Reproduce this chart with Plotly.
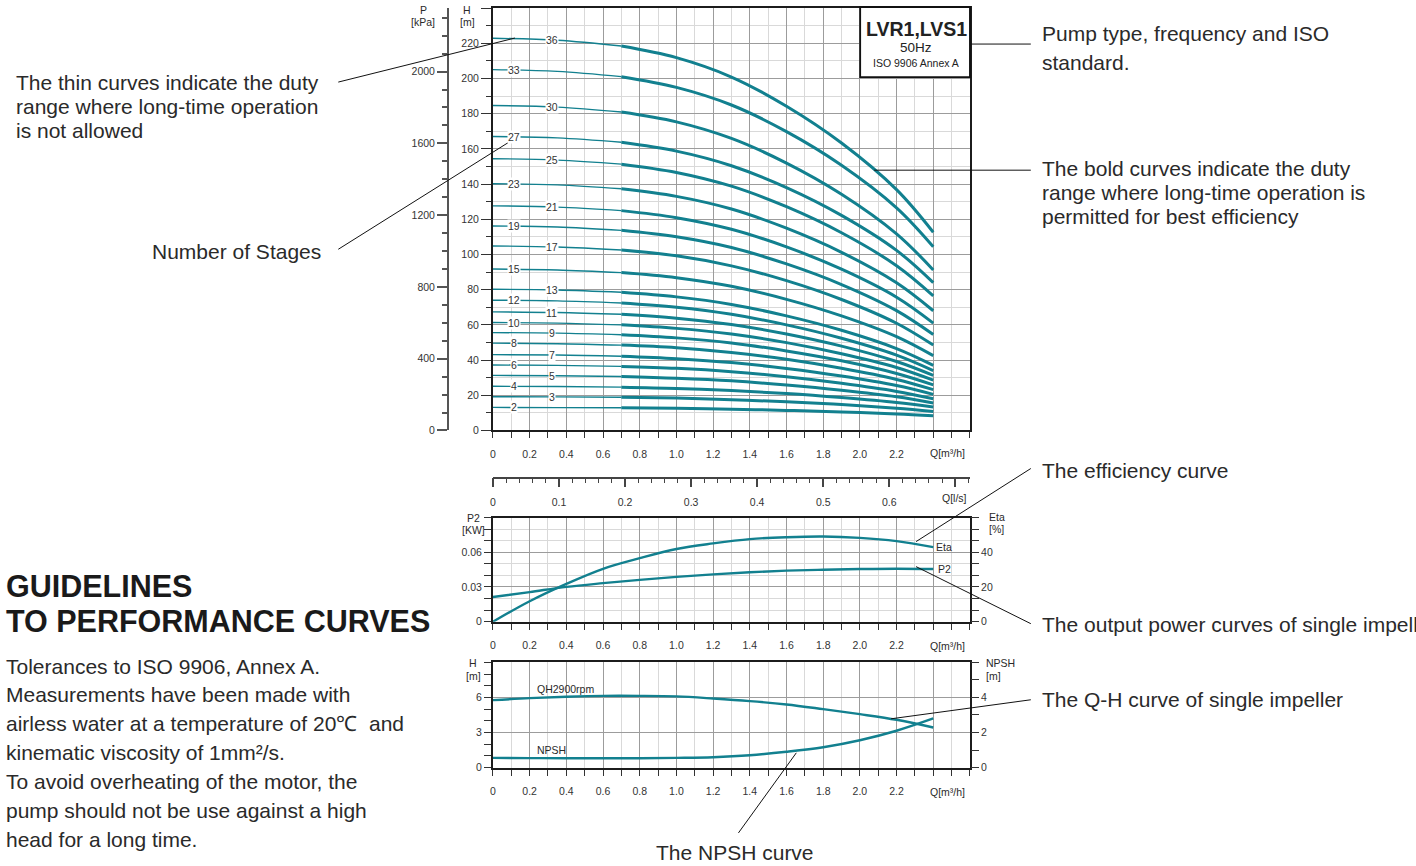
import plotly.graph_objects as go

# ---------------- data ----------------
Q = [0, 0.35, 0.7, 1.0, 1.3, 1.6, 1.9, 2.2, 2.4]          # m3/h
h2 = [13.1, 13.0, 12.9, 12.6, 12.1, 11.4, 10.5, 9.4, 8.3]
h3 = [19.2, 19.1, 18.9, 18.4, 17.5, 16.3, 14.7, 12.6, 10.8]
h4 = [25.1, 25.0, 24.6, 23.9, 22.7, 21.0, 18.7, 15.9, 13.3]
h5 = [31.3, 31.1, 30.7, 29.7, 28.2, 25.8, 22.8, 19.1, 15.6]
h6 = [37.2, 37.0, 36.4, 35.3, 33.4, 30.5, 26.8, 22.2, 18.0]
h7 = [43.1, 42.9, 42.2, 40.8, 38.6, 35.2, 30.9, 25.5, 20.5]
h8 = [49.6, 49.3, 48.5, 47.0, 44.3, 40.4, 35.3, 29.0, 23.2]
h9 = [55.6, 55.3, 54.4, 52.6, 49.7, 45.2, 39.6, 32.4, 25.9]
h10 = [61.3, 61.0, 60.0, 58.0, 54.8, 49.9, 43.6, 35.8, 28.6]
h11 = [67.4, 67.0, 66.0, 63.8, 60.2, 54.8, 47.9, 39.2, 31.3]
h12 = [74.0, 73.6, 72.4, 70.0, 66.0, 60.0, 52.4, 42.8, 34.0]
h13 = [80.2, 79.8, 78.5, 75.9, 71.6, 65.1, 56.9, 46.5, 37.0]
h15 = [91.7, 91.2, 89.7, 86.8, 81.9, 74.5, 65.1, 53.3, 42.5]
h17 = [104.8, 104.2, 102.5, 99.2, 93.5, 85.1, 74.4, 60.9, 48.5]
h19 = [116.2, 115.6, 113.7, 110.0, 103.9, 94.6, 82.9, 68.1, 54.5]
h21 = [127.6, 126.9, 124.9, 120.9, 114.3, 104.3, 91.6, 75.7, 61.0]
h23 = [140.2, 139.5, 137.3, 133.0, 125.8, 114.9, 101.2, 83.9, 68.0]
h25 = [154.4, 153.6, 151.3, 146.6, 138.8, 127.1, 112.3, 93.6, 76.5]
h27 = [167.0, 166.2, 163.7, 158.7, 150.4, 138.0, 122.2, 102.3, 84.0]
h30 = [184.6, 183.7, 180.9, 175.3, 165.9, 151.9, 134.2, 111.7, 91.2]
h33 = [205.0, 204.0, 201.0, 194.9, 184.9, 169.8, 150.7, 126.5, 104.4]
h36 = [222.8, 221.7, 218.4, 211.8, 200.8, 184.2, 163.3, 136.8, 112.6]
stage_numbers = [2, 3, 4, 5, 6, 7, 8, 9, 10, 11, 12, 13, 15, 17, 19, 21, 23, 25, 27, 30, 33, 36]
stage_heads = [h2, h3, h4, h5, h6, h7, h8, h9, h10, h11, h12, h13, h15, h17, h19, h21, h23,
               h25, h27, h30, h33, h36]

q_small = [0, 0.2, 0.4, 0.6, 0.8, 1.0, 1.2, 1.4, 1.6, 1.8, 2.0, 2.2, 2.4]
eta_pct = [0, 11.8, 21.8, 30.5, 36.6, 41.9, 45.1, 47.6, 48.7, 49.1, 48.3, 46.4, 43.0]
p2_kw = [0.0213, 0.0256, 0.0301, 0.0333, 0.0361, 0.0387, 0.0409, 0.0427, 0.0441, 0.0449,
         0.0455, 0.0458, 0.0455]
qh_single = [5.77, 5.94, 6.06, 6.14, 6.14, 6.09, 5.91, 5.69, 5.40, 5.00, 4.57, 4.09, 3.43]
npsh_m = [0.55, 0.54, 0.53, 0.53, 0.53, 0.55, 0.59, 0.70, 0.90, 1.16, 1.56, 2.10, 2.80]

q_ticks = [0, 0.2, 0.4, 0.6, 0.8, 1.0, 1.2, 1.4, 1.6, 1.8, 2.0, 2.2, 2.4, 2.6]
q_ticktext = ["0", "0.2", "0.4", "0.6", "0.8", "1.0", "1.2", "1.4", "1.6", "1.8", "2.0", "2.2", "", ""]
h_ticks = [0, 20, 40, 60, 80, 100, 120, 140, 160, 180, 200, 220, 240]
h_ticktext = ["0", "20", "40", "60", "80", "100", "120", "140", "160", "180", "200", "220", ""]
p_ticks = [0, 400, 800, 1200, 1600, 2000]
ls_ticks = [0, 0.1, 0.2, 0.3, 0.4, 0.5, 0.6, 0.7]
ls_ticktext = ["0", "0.1", "0.2", "0.3", "0.4", "0.5", "0.6", ""]

# ---------------- styling helpers ----------------
W, HGT = 1416, 866
KY = 873 / 866
def px(x): return x / W
def py(y): return 1 - y * KY / HGT

TEAL = "#12808f"
DARK_GRID = "#9c9c9c"
LIGHT_GRID = "#d9d9d9"
FRAME = "#1c1c1c"
TXT = "#2a2a2a"
FONT = "Liberation Sans, Arial, sans-serif"
TICKFONT = dict(family=FONT, size=10.5, color="#333333")

fig = go.Figure()

# main chart curves
for n, h in zip(stage_numbers, stage_heads):
    fig.add_trace(go.Scatter(x=Q[:3], y=h[:3], mode="lines", xaxis="x", yaxis="y",
                             line=dict(color=TEAL, width=1.4, shape="spline"),
                             hoverinfo="skip", showlegend=False))
    fig.add_trace(go.Scatter(x=Q[2:], y=h[2:], mode="lines", xaxis="x", yaxis="y",
                             line=dict(color=TEAL, width=3, shape="spline"),
                             hoverinfo="skip", showlegend=False))

# dummy trace for pressure axis
fig.add_trace(go.Scatter(x=[0], y=[0], xaxis="x", yaxis="y2", mode="markers",
                         marker=dict(opacity=0), hoverinfo="skip", showlegend=False))
# dummy trace for l/s ruler
fig.add_trace(go.Scatter(x=[0], y=[0], xaxis="x3", yaxis="y5", mode="markers",
                         marker=dict(opacity=0), hoverinfo="skip", showlegend=False))

# middle chart
fig.add_trace(go.Scatter(x=q_small, y=eta_pct, mode="lines", xaxis="x2", yaxis="y4",
                         line=dict(color=TEAL, width=2.4, shape="spline"),
                         hoverinfo="skip", showlegend=False))
fig.add_trace(go.Scatter(x=q_small, y=p2_kw, mode="lines", xaxis="x2", yaxis="y3",
                         line=dict(color=TEAL, width=2.4, shape="spline"),
                         hoverinfo="skip", showlegend=False))
# bottom chart
fig.add_trace(go.Scatter(x=q_small, y=qh_single, mode="lines", xaxis="x4", yaxis="y6",
                         line=dict(color=TEAL, width=2.4, shape="spline"),
                         hoverinfo="skip", showlegend=False))
fig.add_trace(go.Scatter(x=q_small, y=npsh_m, mode="lines", xaxis="x4", yaxis="y7",
                         line=dict(color=TEAL, width=2.4, shape="spline"),
                         hoverinfo="skip", showlegend=False))

XDOM = [px(491), px(969)]

def qaxis(anchor):
    return dict(domain=XDOM, range=[0, 2.6], anchor=anchor, tickmode="array",
                tickvals=q_ticks, ticktext=q_ticktext, ticks="outside", ticklen=6,
                tickwidth=1.2, tickcolor="#333", showgrid=True, gridcolor=DARK_GRID,
                gridwidth=1.2, minor=dict(tickmode="linear", tick0=0, dtick=0.1, ticks="outside",
                                          ticklen=6, tickwidth=1.2, tickcolor="#333",
                                          showgrid=True, gridcolor=LIGHT_GRID, gridwidth=1.2),
                showline=True, linecolor=FRAME, linewidth=2, mirror=True, zeroline=False,
                tickfont=TICKFONT, ticklabelstandoff=7, fixedrange=True)

layout = dict(
    width=W, height=HGT, autosize=False,
    margin=dict(l=0, r=0, t=0, b=0),
    paper_bgcolor="white", plot_bgcolor="white",
    hovermode=False, showlegend=False,
    xaxis=qaxis("y"),
    yaxis=dict(domain=[py(430), py(8)], range=[0, 240], anchor="x", tickmode="array",
               tickvals=h_ticks, ticktext=h_ticktext, ticks="outside", ticklen=10,
               tickwidth=1.2, tickcolor="#333", showgrid=True, gridcolor=DARK_GRID,
               gridwidth=1.2,
               minor=dict(tickmode="linear", tick0=0, dtick=10, ticks="outside", ticklen=5,
                          tickwidth=1.2, tickcolor="#333", showgrid=True,
                          gridcolor=LIGHT_GRID, gridwidth=1.2),
               showline=True, linecolor=FRAME, linewidth=2, mirror=True, zeroline=False,
               tickfont=TICKFONT),
    yaxis2=dict(overlaying="y", anchor="free", position=px(446), side="left",
                range=[0, 240 * 9.81], tickmode="array", tickvals=p_ticks, ticks="outside",
                ticklen=10, tickwidth=1.5, tickcolor="#555",
                minor=dict(tickmode="linear", tick0=0, dtick=100, ticks="outside", ticklen=5,
                           tickwidth=1.5, tickcolor="#555", showgrid=False),
                showline=True, linecolor="#555", linewidth=2, showgrid=False, zeroline=False,
                tickfont=TICKFONT),
    # l/s ruler
    xaxis3=dict(domain=XDOM, range=[0, 2.6 / 3.6], anchor="y5", tickmode="array",
                tickvals=ls_ticks, ticktext=ls_ticktext, ticks="outside", ticklen=9,
                tickwidth=1.5, tickcolor="#444",
                minor=dict(tickmode="linear", tick0=0, dtick=0.02, ticks="outside", ticklen=5,
                           tickwidth=1.2, tickcolor="#444", showgrid=False),
                showline=True, linecolor="#444", linewidth=1.5, showgrid=False, zeroline=False,
                tickfont=TICKFONT, ticklabelstandoff=6),
    yaxis5=dict(domain=[py(476), py(475)], range=[0, 1], anchor="x3", visible=False),
    # middle
    xaxis2=qaxis("y3"),
    yaxis3=dict(domain=[py(621), py(517)], range=[0, 0.09], anchor="x2", tickmode="array",
                tickvals=[0, 0.03, 0.06, 0.09], ticktext=["0", "0.03", "0.06", ""],
                ticks="outside", ticklen=7, tickwidth=1.2, tickcolor="#333",
                showgrid=True, gridcolor=DARK_GRID, gridwidth=1.2,
                minor=dict(tickmode="linear", tick0=0, dtick=0.01, ticks="outside", ticklen=7,
                           tickwidth=1.2, tickcolor="#333", showgrid=True,
                           gridcolor=LIGHT_GRID, gridwidth=1.2),
                showline=True, linecolor=FRAME, linewidth=2, mirror=True, zeroline=False,
                tickfont=TICKFONT),
    yaxis4=dict(overlaying="y3", side="right", anchor="x2", range=[0, 60], tickmode="array",
                tickvals=[0, 20, 40, 60], ticktext=["0", "20", "40", ""], ticks="outside",
                ticklen=8, tickwidth=1.2, tickcolor="#333",
                minor=dict(tickmode="linear", tick0=0, dtick=20 / 3, ticks="outside",
                           ticklen=8, tickwidth=1.2, tickcolor="#333", showgrid=False),
                showgrid=False, showline=False, zeroline=False, tickfont=TICKFONT),
    # bottom
    xaxis4=qaxis("y6"),
    yaxis6=dict(domain=[py(766.7), py(661.7)], range=[0, 9], anchor="x4", tickmode="array",
                tickvals=[0, 3, 6, 9], ticktext=["0", "3", "6", ""], ticks="outside",
                ticklen=7, tickwidth=1.2, tickcolor="#333", showgrid=True,
                gridcolor=DARK_GRID, gridwidth=1.2,
                minor=dict(tickmode="linear", tick0=0, dtick=1, ticks="outside", ticklen=7,
                           tickwidth=1.2, tickcolor="#333", showgrid=False),
                showline=True, linecolor=FRAME, linewidth=2, mirror=True, zeroline=False,
                tickfont=TICKFONT),
    yaxis7=dict(overlaying="y6", side="right", anchor="x4", range=[0, 6], tickmode="array",
                tickvals=[0, 2, 4, 6], ticktext=["0", "2", "4", ""], ticks="outside",
                ticklen=8, tickwidth=1.2, tickcolor="#333",
                minor=dict(tickmode="linear", tick0=0, dtick=1, ticks="outside", ticklen=8,
                           tickwidth=1.2, tickcolor="#333", showgrid=False),
                showgrid=False, showline=False, zeroline=False, tickfont=TICKFONT),
)
fig.update_layout(**layout)

ann = []
def text(x, y, s, size=10.5, xanchor="center", color=TXT, bg=None):
    d = dict(x=px(x), y=py(y), xref="paper", yref="paper", text=s, showarrow=False,
             xanchor=xanchor, yanchor="middle", font=dict(family=FONT, size=size, color=color))
    if bg:
        d["bgcolor"] = bg
    ann.append(d)

# stage labels on curves
for i, (n, h) in enumerate(zip(stage_numbers, stage_heads)):
    if i % 2 == 0:
        xq, yv = 0.115, h[0]
    else:
        xq, yv = 0.32, h[1]
    ann.append(dict(x=xq, y=yv, xref="x", yref="y", text=str(n), showarrow=False,
                    xanchor="center", yanchor="middle", bgcolor="white", borderpad=0,
                    font=dict(family=FONT, size=10.5, color="#333")))

# axis titles
text(421, 10, "P"); text(421, 22, "[kPa]")
text(465, 10, "H"); text(465, 22, "[m]")
text(947, 453, "Q[m³/h]")
text(954, 497, "Q[l/s]")
text(471, 517, "P2"); text(471, 529, "[KW]")
text(986, 516, "Eta", xanchor="left"); text(986, 528, "[%]", xanchor="left")
text(947, 645, "Q[m³/h]")
text(471, 662, "H"); text(471, 675, "[m]")
text(983, 662, "NPSH", xanchor="left"); text(983, 675, "[m]", xanchor="left")
text(947, 791, "Q[m³/h]")
# curve labels
text(933, 546, "Eta", xanchor="left")
text(935, 568, "P2", xanchor="left")
text(533, 688, "QH2900rpm", xanchor="left")
text(533, 749, "NPSH", xanchor="left")

# type box
text(915, 29, "<b>LVR1,LVS1</b>", size=19.5, color="#222")
text(915, 47, "50Hz", size=13.5, color="#222")
text(915, 63, "ISO 9906 Annex A", size=10.5, color="#222")

# callouts
BIG = 21
text(11, 82, "The thin curves indicate the duty", size=BIG, xanchor="left")
text(11, 106, "range where long-time operation", size=BIG, xanchor="left")
text(11, 130, "is not allowed", size=BIG, xanchor="left")
text(321, 251, "Number of Stages", size=BIG, xanchor="right")
text(1039, 33, "Pump type, frequency and ISO", size=BIG, xanchor="left")
text(1039, 62, "standard.", size=BIG, xanchor="left")
text(1039, 168, "The bold curves indicate the duty", size=BIG, xanchor="left")
text(1039, 192, "range where long-time operation is", size=BIG, xanchor="left")
text(1039, 216, "permitted for best efficiency", size=BIG, xanchor="left")
text(1039, 470, "The efficiency curve", size=BIG, xanchor="left")
text(1039, 624, "The output power curves of single impeller", size=BIG, xanchor="left")
text(1039, 699, "The Q-H curve of single impeller", size=BIG, xanchor="left")
text(734, 852, "The NPSH curve", size=BIG)

text(1, 585, "<b>GUIDELINES</b>", size=30.5, xanchor="left", color="#1a1a1a")
text(1, 620, "<b>TO PERFORMANCE CURVES</b>", size=30.5, xanchor="left", color="#1a1a1a")
para = ["Tolerances to ISO 9906, Annex A.",
        "Measurements have been made with",
        "airless water at a temperature of 20℃  and",
        "kinematic viscosity of 1mm²/s.",
        "To avoid overheating of the motor, the",
        "pump should not be use against a high",
        "head for a long time."]
para_y = [666, 694, 723, 752, 781, 810, 839]
for s, yy in zip(para, para_y):
    text(1, yy, s, size=21, xanchor="left")

shapes = []
def line(x0, y0, x1, y1, w=1):
    shapes.append(dict(type="line", xref="paper", yref="paper", x0=px(x0), y0=py(y0),
                       x1=px(x1), y1=py(y1), line=dict(color="#111", width=w), layer="above"))

line(336, 82, 513, 38)
line(336, 249, 507, 142)
line(945, 44, 1030, 44)
line(873, 170, 1030, 170)
line(915, 541, 1030, 468)
line(915, 566, 1030, 623)
line(890, 718, 1030, 699)
line(737, 832, 795, 752)
shapes.append(dict(type="rect", xref="paper", yref="paper", x0=px(859), y0=py(77),
                   x1=px(969), y1=py(7), line=dict(color="#111", width=1.8),
                   fillcolor="white", layer="above"))

fig.update_layout(annotations=ann, shapes=shapes)
fig.write_html("out.html", config={"displayModeBar": False},
               post_script="document.body.style.margin='0px';document.body.style.overflow='hidden';")
